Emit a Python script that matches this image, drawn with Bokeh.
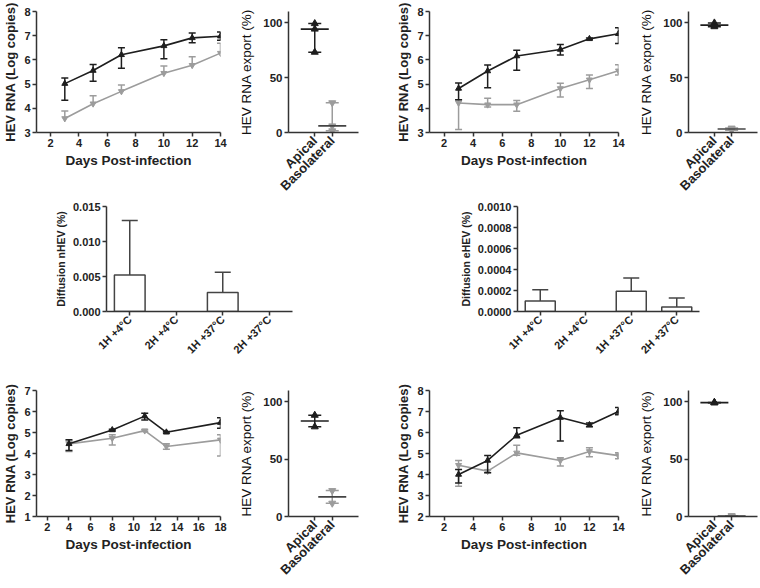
import numpy as np
from bokeh.plotting import figure
from bokeh.models import Range1d, FactorRange, FixedTicker, PrintfTickFormatter, Spacer
from bokeh.layouts import row, column
from bokeh.embed import file_html
from bokeh.resources import INLINE

FONT = "Liberation Sans"
TXT = "#222222"
AX = "#333333"
BLACK = "#1e1e1e"
GREY = "#9c9c9c"

# ---------------- data ----------------
# Panel A (top-left kinetics)
a_days = [3, 5, 7, 10, 12, 14]
a_api_mean = [5.02, 5.56, 6.21, 6.58, 6.91, 6.98]
a_api_lo = [4.33, 5.12, 5.65, 6.05, 6.71, 6.81]
a_api_hi = [5.25, 5.81, 6.50, 6.83, 7.11, 7.15]
a_bas_mean = [3.58, 4.19, 4.70, 5.45, 5.78, 6.28]
a_bas_lo = [3.58, 4.19, 4.70, 5.45, 5.78, 6.28]
a_bas_hi = [3.89, 4.52, 4.96, 5.75, 6.13, 6.69]

# Panel B (top-left export)
b_api = [99.0, 94.0, 73.0]
b_bas = [27.0, 6.0, 1.5]

# Panel C (top-right kinetics)
c_days = [3, 5, 7, 10, 12, 14]
c_api_mean = [4.82, 5.54, 6.16, 6.43, 6.87, 7.08]
c_api_lo = [4.35, 4.85, 5.57, 6.20, 6.84, 6.68]
c_api_hi = [5.05, 5.79, 6.40, 6.64, 6.90, 7.33]
c_bas_mean = [4.22, 4.15, 4.15, 4.82, 5.18, 5.55]
c_bas_lo = [3.12, 4.05, 3.88, 4.47, 4.82, 5.38]
c_bas_hi = [4.35, 4.42, 4.32, 5.03, 5.38, 5.80]

# Panel D (top-right export)
d_api = [99.6, 97.6, 96.2]
d_bas = [4.0, 3.2, 2.0]

# Panel E (diffusion nHEV)
diff_labels = ["1H +4°C", "2H +4°C", "1H +37°C", "2H +37°C"]
e_vals = [0.0052, 0.0, 0.0027, 0.0]
e_err = [0.0130, 0.0, 0.0056, 0.0]

# Panel F (diffusion eHEV)
f_vals = [0.00010, 0.0, 0.000192, 0.000044]
f_err = [0.000207, 0.0, 0.000318, 0.000129]

# Panel G (bottom-left kinetics)
g_days = [4, 8, 11, 13, 18]
g_api_mean = [4.46, 5.12, 5.78, 5.01, 5.47]
g_api_lo = [4.14, 5.08, 5.60, 4.98, 5.20]
g_api_hi = [4.65, 5.16, 5.92, 5.05, 5.70]
g_bas_mean = [4.46, 4.73, 5.09, 4.33, 4.65]
g_bas_lo = [4.10, 4.41, 5.05, 4.20, 3.88]
g_bas_hi = [4.60, 4.89, 5.13, 4.46, 4.89]

# Panel H (bottom-left export)
h_api = [88.4, 78.3]
h_bas = [22.6, 11.6]

# Panel I (bottom-right kinetics)
i_days = [3, 5, 7, 10, 12, 14]
i_api_mean = [4.00, 4.67, 5.87, 6.71, 6.36, 7.00]
i_api_lo = [3.60, 4.08, 5.75, 5.60, 6.27, 6.84]
i_api_hi = [4.24, 4.91, 6.23, 7.03, 6.45, 7.19]
i_bas_mean = [4.44, 4.16, 5.03, 4.67, 5.10, 4.90]
i_bas_lo = [3.44, 4.10, 4.92, 4.40, 4.84, 4.75]
i_bas_hi = [4.67, 4.22, 5.39, 4.80, 5.27, 5.04]

# Panel J (bottom-right export)
j_api = [99.6, 99.4, 99.2]
j_bas = [0.4, 0.6, 0.5]

export_cats = ["Apical", "Basolateral"]


# ---------------- helpers ----------------
def style_axis(ax, tick_size="11px"):
    ax.axis_line_color = AX
    ax.axis_line_width = 1.5
    ax.major_tick_line_color = AX
    ax.major_tick_line_width = 1.5
    ax.major_tick_out = 4
    ax.major_tick_in = 0
    ax.minor_tick_line_color = None
    ax.major_label_text_font = FONT
    ax.major_label_text_font_style = "bold"
    ax.major_label_text_font_size = tick_size
    ax.major_label_text_color = TXT
    ax.axis_label_text_font = FONT
    ax.axis_label_text_font_style = "bold"
    ax.axis_label_text_color = TXT
    ax.major_label_standoff = 2
    ax.axis_label_standoff = 3


def base_fig(w, h, l, r, t, b, xr, yr):
    p = figure(width=w, height=h, x_range=xr, y_range=yr,
               output_backend="svg", toolbar_location=None,
               min_border_left=l, min_border_right=r,
               min_border_top=t, min_border_bottom=b)
    p.outline_line_color = None
    p.grid.visible = False
    p.background_fill_color = "white"
    p.border_fill_color = "white"
    style_axis(p.xaxis[0])
    style_axis(p.yaxis[0])
    return p


def line_panel(w, h, l, r, t, b, xr, yr, xt, yt, days, series):
    p = base_fig(w, h, l, r, t, b, Range1d(*xr), Range1d(*yr))
    p.xaxis.ticker = FixedTicker(ticks=xt)
    p.yaxis.ticker = FixedTicker(ticks=yt)
    p.xaxis.axis_label = "Days Post-infection"
    p.yaxis.axis_label = "HEV RNA (Log copies)"
    p.xaxis.axis_label_text_font_size = "13.5px"
    p.yaxis.axis_label_text_font_size = "13px"
    for mean, lo, hi, color, marker in series:
        p.line(days, mean, line_color=color, line_width=1.6)
        p.segment(days, lo, days, hi, line_color=color, line_width=1.5)
        hx = [d for d, m, v in zip(days, mean, hi) if v > m + 0.02]
        hy = [v for d, m, v in zip(days, mean, hi) if v > m + 0.02]
        lx = [d for d, m, v in zip(days, mean, lo) if v < m - 0.02]
        ly = [v for d, m, v in zip(days, mean, lo) if v < m - 0.02]
        p.scatter(hx, hy, marker="dash", size=7, line_color=color, line_width=1.5)
        p.scatter(lx, ly, marker="dash", size=7, line_color=color, line_width=1.5)
        p.scatter(days, mean, marker=marker, size=6, fill_color=color, line_color=color)
    return p


def export_panel(w, h, l, r, t, b, api, bas):
    xr = FactorRange(factors=export_cats, range_padding=1.0, range_padding_units="absolute")
    p = base_fig(w, h, l, r, t, b, xr, Range1d(0, 110))
    p.yaxis.ticker = FixedTicker(ticks=[0, 50, 100])
    p.yaxis.axis_label = "HEV RNA export (%)"
    p.yaxis.axis_label_text_font_style = "normal"
    p.yaxis.axis_label_text_font_size = "13.5px"
    p.yaxis.axis_label_text_color = "#111111"
    p.yaxis.axis_label_standoff = 6
    p.yaxis.major_label_text_font_size = "11.5px"
    p.xaxis.major_label_orientation = np.pi / 4
    p.xaxis.major_label_text_font_size = "13px"
    for cat, vals, color, marker in [("Apical", api, BLACK, "triangle"),
                                     ("Basolateral", bas, GREY, "inverted_triangle")]:
        lo, hi, med = float(np.min(vals)), float(np.max(vals)), float(np.median(vals))
        p.segment([cat], [lo], [cat], [hi], line_color=color, line_width=1.5)
        p.scatter([cat, cat], [lo, hi], marker="dash", size=13, line_color=color, line_width=1.5)
        p.scatter([cat] * len(vals), vals, marker=marker, size=7, fill_color=color, line_color=color)
        p.scatter([cat], [med], marker="dash", size=28,
                  line_color=BLACK if color == BLACK else "#444444", line_width=1.6)
    return p


def bar_panel(w, h, l, r, t, b, vals, err, ymax, yt, fmt, ylabel):
    xr = FactorRange(factors=diff_labels)
    p = base_fig(w, h, l, r, t, b, xr, Range1d(0, ymax))
    p.yaxis.ticker = FixedTicker(ticks=yt)
    p.yaxis.formatter = PrintfTickFormatter(format=fmt)
    p.yaxis.axis_label = ylabel
    p.yaxis.axis_label_text_font_size = "10.5px"
    p.xaxis.major_label_orientation = np.pi / 4
    p.xaxis.major_label_text_font_size = "11px"
    cats = [c for c, v in zip(diff_labels, vals) if v > 0]
    vv = [v for v in vals if v > 0]
    ee = [e for v, e in zip(vals, err) if v > 0]
    p.segment(cats, vv, cats, ee, line_color="#444444", line_width=1.5)
    p.scatter(cats, ee, marker="dash", size=16, line_color="#444444", line_width=1.5)
    p.vbar(x=cats, top=vv, width=0.66, fill_color="white", line_color="#444444", line_width=1.5)
    return p


# ---------------- panels ----------------
H1, H2, H3 = 201, 171, 214

pA = line_panel(236, H1, 31, 16, 11, 64, (1, 14), (3, 8), [2, 4, 6, 8, 10, 12, 14], [3, 4, 5, 6, 7, 8],
                a_days, [(a_bas_mean, a_bas_lo, a_bas_hi, GREY, "inverted_triangle"),
                         (a_api_mean, a_api_lo, a_api_hi, BLACK, "triangle")])
pB = export_panel(144, H1, 48, 22, 10, 64, b_api, b_bas)
pC = line_panel(256, H1, 49, 18, 11, 64, (1, 14), (3, 8), [2, 4, 6, 8, 10, 12, 14], [3, 4, 5, 6, 7, 8],
                c_days, [(c_bas_mean, c_bas_lo, c_bas_hi, GREY, "inverted_triangle"),
                         (c_api_mean, c_api_lo, c_api_hi, BLACK, "triangle")])
pD = export_panel(122, H1, 47, 1, 10, 64, d_api, d_bas)

pE = bar_panel(280, H2, 66, 28, 5, 61, e_vals, e_err, 0.015, [0, 0.005, 0.010, 0.015], "%.3f",
               "Diffusion nHEV (%)")
pF = bar_panel(300, H2, 97, 21, 5, 61, f_vals, f_err, 0.0010,
               [0, 0.0002, 0.0004, 0.0006, 0.0008, 0.0010], "%.4f", "Diffusion eHEV (%)")

pG = line_panel(236, H3, 31, 16, 18, 70, (1, 18), (1, 7), [2, 4, 6, 8, 10, 12, 14, 16, 18],
                [1, 2, 3, 4, 5, 6, 7],
                g_days, [(g_bas_mean, g_bas_lo, g_bas_hi, GREY, "inverted_triangle"),
                         (g_api_mean, g_api_lo, g_api_hi, BLACK, "triangle")])
pH = export_panel(144, H3, 48, 22, 18, 70, h_api, h_bas)
pI = line_panel(256, H3, 49, 18, 18, 70, (1, 14), (2, 8), [2, 4, 6, 8, 10, 12, 14], [2, 3, 4, 5, 6, 7, 8],
                i_days, [(i_bas_mean, i_bas_lo, i_bas_hi, GREY, "inverted_triangle"),
                         (i_api_mean, i_api_lo, i_api_hi, BLACK, "triangle")])
pJ = export_panel(122, H3, 49, 1, 18, 70, j_api, j_bas)

layout = column(
    row(pA, pB, pC, pD),
    row(Spacer(width=40, height=H2), pE, Spacer(width=100, height=H2), pF),
    row(pG, pH, pI, pJ),
)

open("out.html", "w").write(file_html(layout, INLINE))
